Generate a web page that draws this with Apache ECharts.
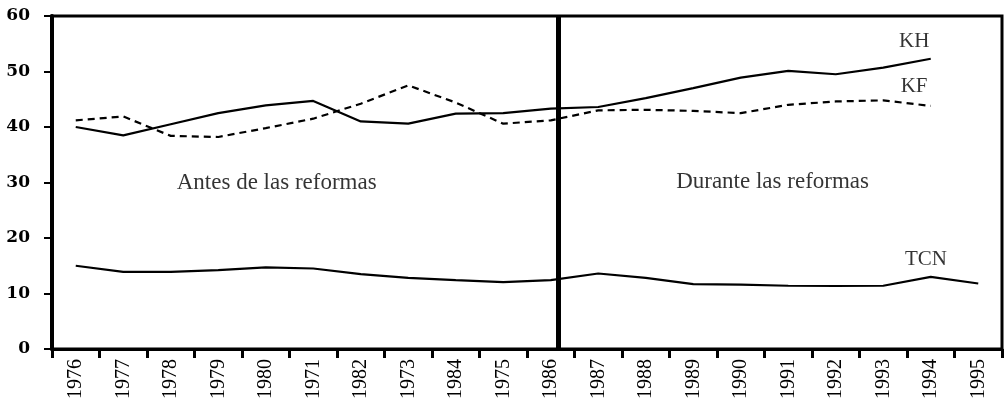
<!DOCTYPE html>
<html><head><meta charset="utf-8">
<script src="https://cdn.jsdelivr.net/npm/echarts@6/dist/echarts.min.js"></script>
<style>html,body{margin:0;padding:0;background:#fff}#c{width:1005px;height:402px}</style>
</head><body><div id="c"></div>
<script>
const years = ['1976','1977','1978','1979','1980','1971','1982','1973','1984','1975','1986','1987','1988','1989','1990','1991','1992','1993','1994','1995'];
const kh  = [40.0,38.5,40.5,42.5,43.9,44.7,41.0,40.6,42.4,42.5,43.3,43.6,45.2,47.0,48.9,50.1,49.5,50.7,52.3,null];
const kf  = [41.2,41.9,38.4,38.2,39.8,41.5,44.2,47.5,44.4,40.6,41.2,43.0,43.1,42.9,42.5,44.0,44.6,44.8,43.8,null];
const tcn = [15.0,13.9,13.9,14.2,14.7,14.5,13.5,12.8,12.4,12.05,12.4,13.6,12.8,11.7,11.6,11.4,11.35,11.4,13.0,11.8];
const yMin = 0, yMax = 60, yStep = 10;
const reformStart = 10.65;
const periodLabels = [[4.73, 29.9, 'Antes de las reformas'], [15.17, 30.1, 'Durante las reformas']];
const seriesNames = [[18.15, 55.4, 'KH'], [18.15, 47.3, 'KF'], [18.4, 16.1, 'TCN']];

const chart = echarts.init(document.getElementById('c'), null, {renderer: 'canvas'});
const serif = '"Liberation Serif", "Times New Roman", serif';
chart.setOption({
  animation: false,
  backgroundColor: '#fff',
  grid: {left: 52, right: 3, top: 16, bottom: 51, show: true, borderColor: '#000', borderWidth: 3, backgroundColor: 'transparent'},
  xAxis: [{
    type: 'category', data: years, boundaryGap: true,
    axisLine: {lineStyle: {color: '#000', width: 3}},
    axisTick: {show: true, length: 9, lineStyle: {color: '#000', width: 3}},
    axisLabel: {interval: 0, rotate: 90, margin: 10, color: '#000', fontFamily: serif, fontSize: 20},
    splitLine: {show: false}
  }, {
    type: 'value', min: 0, max: years.length, show: false, splitLine: {show: false}
  }],
  yAxis: {
    type: 'value', min: yMin, max: yMax, interval: yStep,
    axisLine: {show: true, lineStyle: {color: '#000', width: 4}},
    axisTick: {show: true, length: 8, lineStyle: {color: '#000', width: 2}},
    axisLabel: {margin: 22, color: '#000', fontFamily: '"DejaVu Serif", serif', fontWeight: 'bold', fontSize: 17},
    splitLine: {show: false}
  },
  series: [
    {name: 'KH', type: 'line', data: kh, symbol: 'none', lineStyle: {color: '#000', width: 2.2}},
    {name: 'KF', type: 'line', data: kf, symbol: 'none', lineStyle: {color: '#000', width: 2.2, type: [7, 5]}},
    {name: 'TCN', type: 'line', data: tcn, symbol: 'none', lineStyle: {color: '#000', width: 2.2}},
    {
      type: 'scatter', xAxisIndex: 1, symbolSize: 0, silent: true,
      data: periodLabels.concat(seriesNames).map((d, i) => ({
        value: d,
        label: {fontSize: i < periodLabels.length ? 23 : 21}
      })),
      label: {show: true, position: 'inside', formatter: p => p.data.value[2], color: '#000', fontFamily: serif},
      markLine: {
        silent: true, symbol: 'none', label: {show: false},
        lineStyle: {color: '#000', width: 5, type: 'solid'},
        data: [{xAxis: reformStart}]
      }
    }
  ]
});
</script>
</body></html>
